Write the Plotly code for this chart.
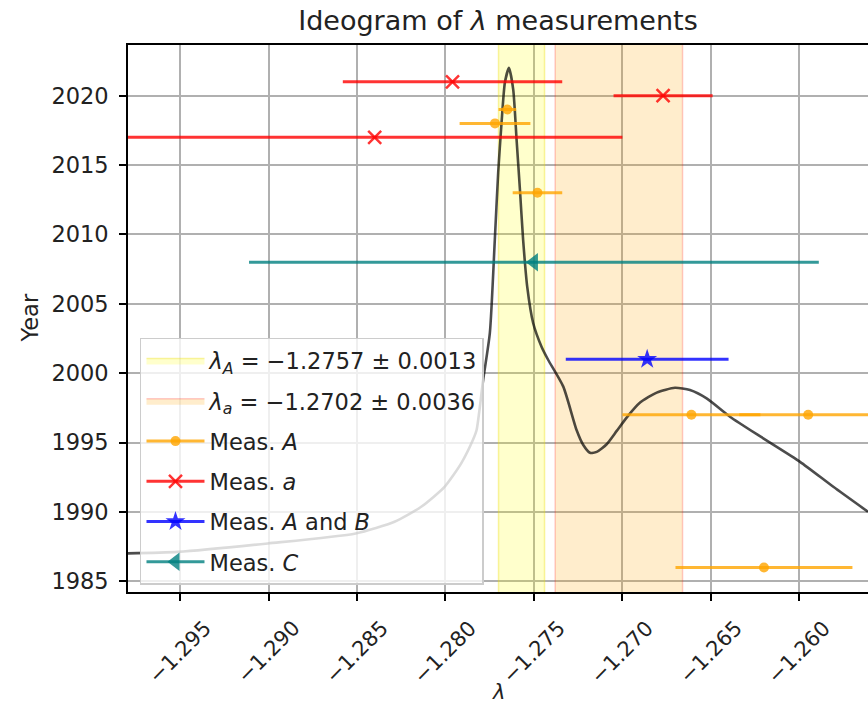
import plotly.graph_objects as go

# ---------------- data ----------------
# combined values (bands)
lam_A, err_A = -1.2757, 0.0013
lam_a, err_a = -1.2702, 0.0036

# Meas. A (orange)
measA_lam = [-1.2765, -1.2772, -1.2748, -1.2661, -1.2595, -1.2620]
measA_err = [0.0005, 0.0020, 0.0014, 0.0039, 0.0039, 0.0050]
measA_year = [2019, 2018, 2013, 1997, 1997, 1986]

# Meas. a (red)
measa_lam = [-1.2796, -1.2677, -1.2840]
measa_err = [0.0062, 0.0028, 0.0140]
measa_year = [2021, 2020, 2017]

# Meas. A and B (blue)
measAB_lam = [-1.2686]
measAB_err = [0.0046]
measAB_year = [2001]

# Meas. C (teal)
measC_lam = [-1.2750]
measC_err = [0.0161]
measC_year = [2008]

# ideogram curve
curve_lam = [-1.29794, -1.29513, -1.29004, -1.28507, -1.28288, -1.28137, -1.28005,
             -1.27911, -1.27845, -1.27824, -1.27787, -1.27749, -1.27721,
             -1.27702, -1.27683, -1.27664, -1.27641, -1.27617, -1.27598, -1.27579,
             -1.27561, -1.27538, -1.27504, -1.27457, -1.27419, -1.27334, -1.27259,
             -1.27221, -1.27183, -1.27145, -1.27089, -1.27032, -1.26976, -1.26900,
             -1.26806, -1.26703, -1.26618, -1.26524, -1.26392,
             -1.26204, -1.25996, -1.25808, -1.25612]
curve_year = [1987.01, 1987.12, 1987.73, 1988.45, 1989.29, 1990.37, 1991.81,
              1993.50, 1995.18, 1995.90, 1999.51, 2002.90, 2009.61,
              2014.44, 2018.05, 2020.94, 2022.00, 2020.43, 2016.83, 2013.22,
              2009.61, 2006.24, 2003.60, 2001.91, 2000.95, 1999.03, 1995.90,
              1994.82, 1994.26, 1994.33, 1994.88, 1995.84, 1996.80, 1997.88,
              1998.60, 1998.95, 1998.78, 1998.18, 1996.86,
              1995.30, 1993.61, 1991.81, 1990.01]

x_ticks = [-1.295, -1.290, -1.285, -1.280, -1.275, -1.270, -1.265, -1.260]
x_ticktext = ["\u22121.295", "\u22121.290", "\u22121.285", "\u22121.280",
              "\u22121.275", "\u22121.270", "\u22121.265", "\u22121.260"]
y_ticks = [1985, 1990, 1995, 2000, 2005, 2010, 2015, 2020]

x_range = [-1.29794, -1.25612]
y_range = [1984.23, 2023.65]

FONT = "DejaVu Sans"
TXT = "#222222"
FS = 22.5
FSX = 21

fig = go.Figure()


def band(center, err, fill, edge, name, group):
    x0, x1 = center - err, center + err
    fig.add_trace(go.Scatter(
        x=[x0, x1, x1, x0, x0], y=[1960, 1960, 2050, 2050, 1960],
        mode="lines", fill="toself", fillcolor=fill,
        line=dict(color=edge, width=1.5), name=name,
        legendgroup=group, hoverinfo="skip"))


band(lam_A, err_A, "rgba(255,255,0,0.2)", "rgba(235,220,0,0.35)",
     "<i>λ<sub>A</sub></i> = \u22121.2757 ± 0.0013", "g1")
band(lam_a, err_a, "rgba(255,165,0,0.2)", "rgba(255,0,0,0.2)",
     "<i>λ<sub>a</sub></i> = \u22121.2702 ± 0.0036", "g2")

fig.add_trace(go.Scatter(
    x=curve_lam, y=curve_year, mode="lines", line_shape="spline",
    line=dict(color="rgba(0,0,0,0.7)", width=2.6, smoothing=0.6),
    showlegend=False, hoverinfo="skip"))


def gapped(vals):
    out = []
    for v in vals:
        out += [v, None]
    return out


def meas(lams, errs, years, color, symbol, size, name, group, mline=0):
    fig.add_trace(go.Scatter(
        x=gapped(lams), y=gapped(years), mode="lines+markers",
        line=dict(color=color, width=3),
        error_x=dict(type="data", array=gapped(errs), color=color,
                     thickness=3, width=0, visible=True),
        marker=dict(symbol=symbol, size=size, color=color,
                    line=dict(width=mline, color=color)),
        name=name, legendgroup=group, connectgaps=False))


meas(measA_lam, measA_err, measA_year, "rgba(255,165,0,0.8)", "circle", 10,
     "Meas. <i>A</i>", "g3")
meas(measa_lam, measa_err, measa_year, "rgba(255,0,0,0.8)", "x-thin", 13,
     "Meas. <i>a</i>", "g4", mline=2.5)
meas(measAB_lam, measAB_err, measAB_year, "rgba(0,0,255,0.8)", "star", 15,
     "Meas. <i>A</i> and <i>B</i>", "g5")
meas(measC_lam, measC_err, measC_year, "rgba(0,128,128,0.8)", "triangle-left", 16,
     "Meas. <i>C</i>", "g6")

annotations = []
for v, t in zip(x_ticks, x_ticktext):
    annotations.append(dict(x=v, xref="x", y=0, yref="paper", text=t,
                            showarrow=False, textangle=-45, xanchor="center",
                            yanchor="top", yshift=-21,
                            font=dict(family=FONT, size=FSX, color=TXT)))
annotations.append(dict(x=0.5, xref="paper", y=0, yref="paper", text="<i>λ</i>",
                        showarrow=False, xanchor="center", yanchor="bottom",
                        yshift=-114, font=dict(family=FONT, size=FSX, color=TXT)))
annotations.append(dict(x=0, xref="paper", y=0.5, yref="paper", text="Year",
                        showarrow=False, textangle=-90, xanchor="center",
                        yanchor="middle", xshift=-99,
                        font=dict(family=FONT, size=FS, color=TXT)))

fig.update_layout(
    width=868, height=714,
    margin=dict(l=128, r=0, t=45, b=122),
    paper_bgcolor="white", plot_bgcolor="white",
    title=dict(text="Ideogram of <i>λ</i> measurements", x=0.5, xref="paper",
               xanchor="center", y=1 - 21 / 714, yref="container", yanchor="middle",
               font=dict(family=FONT, size=27, color=TXT)),
    font=dict(family=FONT, size=FS, color=TXT),
    xaxis=dict(range=x_range, tickvals=x_ticks, showticklabels=False,
               ticks="outside", ticklen=7, tickwidth=1.6, tickcolor="black",
               showgrid=True, gridcolor="#b0b0b0", gridwidth=1.6,
               showline=True, linecolor="black", linewidth=1.6, mirror=True,
               zeroline=False),
    yaxis=dict(range=y_range, tickvals=y_ticks,
               ticks="outside", ticklen=7, tickwidth=1.6, tickcolor="black",
               ticklabelstandoff=6,
               tickfont=dict(family=FONT, size=FS, color=TXT),
               showgrid=True, gridcolor="#b0b0b0", gridwidth=1.6,
               showline=True, linecolor="black", linewidth=1.6, mirror=False,
               zeroline=False),
    legend=dict(x=0.0162, y=0.4644, xanchor="left", yanchor="top",
                bgcolor="rgba(255,255,255,0.8)", bordercolor="#cccccc",
                borderwidth=1.5, traceorder="grouped", tracegroupgap=8,
                itemwidth=58, font=dict(family=FONT, size=FS, color=TXT)),
    annotations=annotations,
    showlegend=True,
)

fig.write_html("out.html")
